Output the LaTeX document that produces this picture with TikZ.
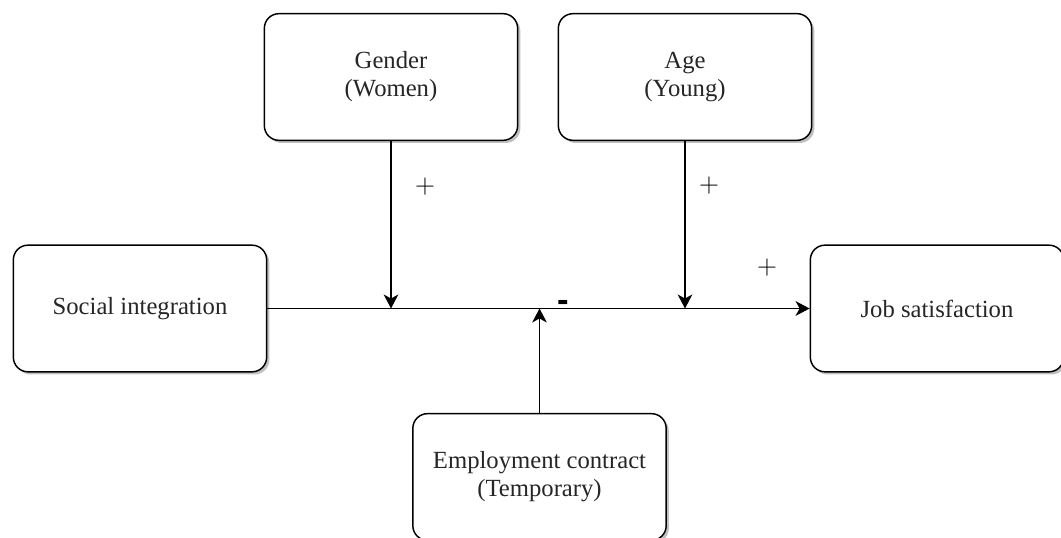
\documentclass[tikz,border=0pt]{standalone}
\usepackage{fontspec}
\setmainfont{Liberation Serif}
\setsansfont{Liberation Sans}
\usetikzlibrary{arrows.meta,shadows}
\tikzset{
  factor/.style={draw=black, line width=1.1pt, fill=white, rounded corners=11pt,
    minimum width=190pt, minimum height=95pt, align=center,
    text=black!85, font=\fontsize{18.5}{21}\selectfont,
    drop shadow={shadow xshift=2pt, shadow yshift=-2pt, fill=black!45, opacity=0.55}},
  link/.style={line width=1.1pt, -{Stealth[length=10.5pt,width=11pt,inset=3pt]}},
  sign/.style={font=\fontsize{20.5}{23}\selectfont}
}
\begin{document}
\begin{tikzpicture}[x=0.75pt, y=-0.75pt]
        \useasboundingbox (0, 0) rectangle (1061, 538);
        \node [factor] (si) at (140, 308.5) {Social integration};
        \node [factor] (js) at (937, 308.5) {Job satisfaction};
        \node [factor] (gender) at (391, 77) {Gender\\(Women)};
        \node [factor] (age) at (685, 77) {Age\\(Young)};
        \node [factor] (emp) at (539.5, 477) {Employment contract\\(Temporary)};
        \draw [link] (si) -- (js);
        \draw [link] (gender) -- (gender |- si);
        \draw [link] (age) -- (age |- si);
        \draw [link] (emp) -- (emp |- si);
        \node [sign] (pg) at (425, 187) {$+$};
        \node [sign] (pa) at (709, 186) {$+$};
        \node [sign] (pj) at (767, 268) {$+$};
        \node [font=\sffamily\bfseries\fontsize{26}{28}\selectfont] (me) at (563, 306) {-};
      \end{tikzpicture}
\end{document}
